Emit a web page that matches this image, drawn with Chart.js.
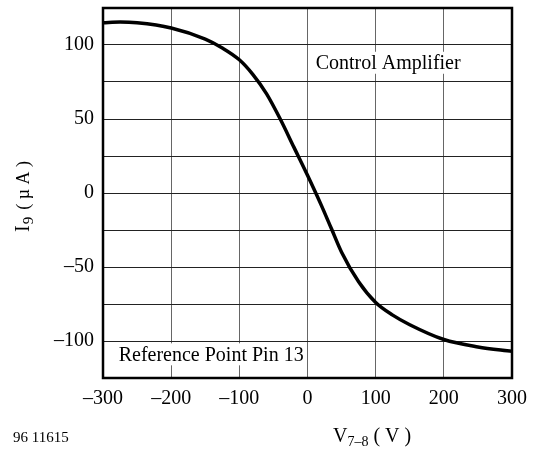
<!DOCTYPE html>
<html>
<head>
<meta charset="utf-8">
<script src="https://cdn.jsdelivr.net/npm/chart.js@4"></script>
<style>
  html, body { margin: 0; padding: 0; background: #fff; }
</style>
</head>
<body>
<canvas id="ampChart" width="539" height="455"></canvas>
<script>
// Kurva V7-8 vs I9
const voltage = [-300, -275, -250, -200, -150, -125, -100, -80, -60, -40, -20, 0, 20, 35, 50, 75, 100, 125, 150, 200, 250, 300];
const current = [115, 115.5, 115, 111.5, 104, 98, 90, 80, 67, 50, 31, 12, -8, -24, -40, -60, -74, -82.5, -89, -99, -104, -107];
const xTicks = [-300, -200, -100, 0, 100, 200, 300];
const yTickLabels = [100, 50, 0, -50, -100];

const serif = 'Liberation Serif';
const dash = v => v < 0 ? '\u2013' + Math.abs(v) : String(v);

// Teks tambahan, judul sumbu dan bingkai
const extras = {
    id: 'extras',
    afterDraw(chart) {
        const { ctx, chartArea: a, scales } = chart;
        const sx = scales.x, sy = scales.y;
        ctx.save();

        // label di dalam plot dengan latar putih
        ctx.font = '20px "' + serif + '"';
        ctx.textBaseline = 'middle';
        ctx.textAlign = 'left';
        const notes = [
            { text: 'Control Amplifier', x: sx.getPixelForValue(12), y: sy.getPixelForValue(88) },
            { text: 'Reference Point Pin 13', x: sx.getPixelForValue(-277), y: sy.getPixelForValue(-109) }
        ];
        notes.forEach(n => {
            const w = ctx.measureText(n.text).width;
            ctx.fillStyle = '#fff';
            ctx.fillRect(n.x - 3, n.y - 11, w + 6, 22);
            ctx.fillStyle = '#000';
            ctx.fillText(n.text, n.x, n.y + 1);
        });

        // bingkai
        ctx.strokeStyle = '#000';
        ctx.lineWidth = 2.5;
        ctx.strokeRect(a.left, a.top, a.right - a.left, a.bottom - a.top);

        // judul sumbu X: V7-8 ( V )
        ctx.fillStyle = '#000';
        ctx.textBaseline = 'alphabetic';
        let x = 333, y = 442;
        ctx.font = '20px "' + serif + '"';
        ctx.fillText('V', x, y);
        x += ctx.measureText('V').width;
        ctx.font = '14px "' + serif + '"';
        ctx.fillText('7\u20138', x, y + 4);
        x += ctx.measureText('7\u20138').width;
        ctx.font = '20px "' + serif + '"';
        ctx.fillText(' ( V )', x, y);

        // judul sumbu Y: I9 (µA), diputar
        ctx.save();
        ctx.translate(29, 232);
        ctx.rotate(-Math.PI / 2);
        ctx.font = '20px "' + serif + '"';
        let t = 0;
        ctx.fillText('I', t, 0);
        t += ctx.measureText('I').width;
        ctx.font = '15px "' + serif + '"';
        ctx.fillText('9', t + 1, 4);
        t += ctx.measureText('9').width + 8;
        ctx.font = '18px "' + serif + '"';
        ctx.fillText('( \u00b5 A )', t, 0);
        ctx.restore();

        // nomor gambar
        ctx.font = '15px "' + serif + '"';
        ctx.fillText('96 11615', 13, 442);
        ctx.restore();
    }
};

const ctx = document.getElementById('ampChart').getContext('2d');
new Chart(ctx, {
    type: 'scatter',
    data: {
        datasets: [{
            data: voltage.map((v, i) => ({ x: v, y: current[i] })),
            showLine: true,
            borderColor: '#000',
            borderWidth: 3.5,
            pointRadius: 0,
            cubicInterpolationMode: 'monotone',
            fill: false
        }]
    },
    options: {
        responsive: false,
        animation: false,
        layout: { padding: { top: 8, right: 27, left: 0, bottom: 0 } },
        plugins: { legend: { display: false }, tooltip: { enabled: false } },
        scales: {
            x: {
                type: 'linear',
                min: -300,
                max: 300,
                afterBuildTicks: s => { s.ticks = xTicks.map(v => ({ value: v })); },
                afterFit: s => { s.height = 77; s.paddingLeft = 0; s.paddingRight = 0; },
                grid: { color: '#666', lineWidth: 1, drawTicks: false },
                border: { display: false },
                ticks: {
                    padding: 9,
                    color: '#000',
                    font: { family: serif, size: 20 },
                    callback: v => dash(v)
                }
            },
            y: {
                min: -125,
                max: 125,
                ticks: {
                    stepSize: 25,
                    padding: 9,
                    color: '#000',
                    font: { family: serif, size: 20 },
                    callback: v => yTickLabels.includes(v) ? dash(v) : ''
                },
                afterFit: s => { s.width = 103; s.paddingTop = 0; s.paddingBottom = 0; },
                grid: { color: '#222', lineWidth: 1, drawTicks: false },
                border: { display: false }
            }
        }
    },
    plugins: [extras]
});
</script>
</body>
</html>
